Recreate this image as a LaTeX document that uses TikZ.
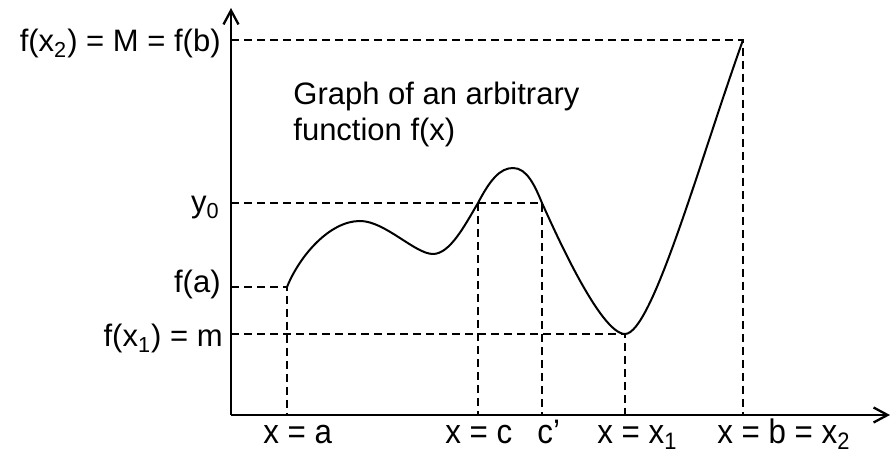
\documentclass[tikz,border=0pt]{standalone}
\usepackage{fontspec}
\setmainfont{Liberation Sans}
\usetikzlibrary{arrows.meta}

\begin{document}
\begin{tikzpicture}[
            x=0.5pt, y=-0.5pt,
            axis/.style={line width=1.15pt, -{Straight Barb[length=7pt, width=7.5pt]}},
            guide/.style={line width=0.8pt, dash pattern=on 4pt off 2.5pt},
            curve/.style={line width=1pt, line join=round},
            vallabel/.style={anchor=base east, inner sep=0pt, font=\fontsize{15.5}{18}\selectfont},
            xlabel/.style={anchor=base west, inner sep=0pt, xscale=0.92, font=\fontsize{17}{20}\selectfont},
            note/.style={anchor=base west, inner sep=0pt, font=\fontsize{15.5}{18}\selectfont}
        ]

        \useasboundingbox (0,0) rectangle (891,453);

        % Punkte
        \coordinate (O) at (231,415);
        \coordinate (ytop) at (231,8);
        \coordinate (xend) at (890,415);
        \coordinate (fa) at (287,287);
        \coordinate (max1) at (360,221);
        \coordinate (min1) at (433,254);
        \coordinate (c) at (478,203);
        \coordinate (peak) at (513,168);
        \coordinate (cc) at (542,203);
        \coordinate (x1) at (625,334);
        \coordinate (fb) at (743,40);

        % Hilfslinien
        \draw[guide] (O |- fb) -- (fb) -- (fb |- O);
        \draw[guide] (O |- c) -- (cc) -- (cc |- O);
        \draw[guide] (c) -- (c |- O);
        \draw[guide] (O |- fa) -- (fa) -- (fa |- O);
        \draw[guide] (O |- x1) -- (x1) -- (x1 |- O);

        % Achsen
        \draw[axis] (O) -- (ytop);
        \draw[axis] (O) -- (xend);

        % Kurve
        \draw[curve] (fa) .. controls (300,255) and (330,221) .. (max1)
            .. controls (385,221) and (415,254) .. (min1)
            .. controls (450,254) and (465,225) .. (c)
            .. controls (490,180) and (500,168) .. (peak)
            .. controls (527,168) and (535,186) .. (cc)
            .. controls (553,227) and (600,334) .. (x1)
            .. controls (652,334) and (700,160) .. (fb);

        % Beschriftung
        \node[vallabel] (lM) at (221,52) {f(x\textsubscript{2}) = M = f(b)};
        \node[vallabel] (ly0) at (220,213) {y\textsubscript{0}};
        \node[vallabel] (lfa) at (221,293) {f(a)};
        \node[vallabel] (lm) at (223,347) {f(x\textsubscript{1}) = m};

        \node[xlabel] (la) at (263,444) {x = a};
        \node[xlabel] (lc) at (445,444) {x = c};
        \node[xlabel] (lcc) at (537,444) {c'};
        \node[xlabel] (lx1) at (597,444) {x = x\textsubscript{1}};
        \node[xlabel] (lb) at (717,444) {x = b = x\textsubscript{2}};

        \node[note] (note1) at (293,105) {Graph of an arbitrary};
        \node[note] (note2) at (293,141) {function f(x)};

    \end{tikzpicture}
\end{document}
